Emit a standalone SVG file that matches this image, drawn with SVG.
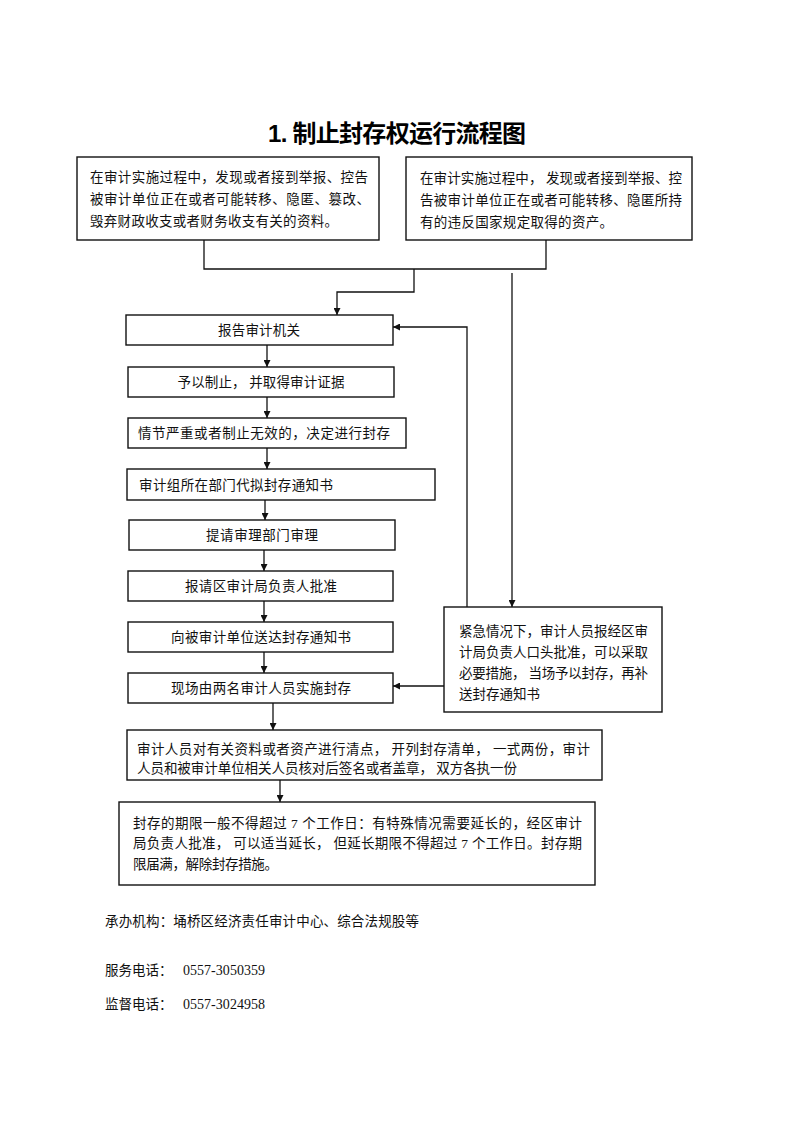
<svg xmlns="http://www.w3.org/2000/svg" width="794" height="1122" viewBox="0 0 794 1122">
<style>
.bx{fill:#fff;stroke:#111;stroke-width:1.4}
.t{font-family:"Liberation Serif","Noto Sans CJK SC",serif;font-size:13.5px;fill:#111}
.d{font-family:"Liberation Serif",serif;font-size:14px;fill:#111}
.c{text-anchor:middle}
.ln{fill:none;stroke:#111;stroke-width:1.3}
.ttl{font-family:"Liberation Sans","Noto Sans CJK SC",sans-serif;font-size:24px;font-weight:bold;fill:#000;text-anchor:middle}
</style>
<defs>
<marker id="ah" viewBox="0 0 10 10" refX="10" refY="5" markerWidth="7" markerHeight="7" markerUnits="userSpaceOnUse" orient="auto">
<path d="M0,0 L10,5 L0,10 z" fill="#111"/>
</marker>
</defs>
<rect width="794" height="1122" fill="#fff"/>
<text class="ttl" x="397" y="142" textLength="258">1. 制止封存权运行流程图</text>

<g id="connectors">
<path class="ln" d="M204,240 V269 H546 V240"/>
<path class="ln" d="M414,269 V292 H337 V315" marker-end="url(#ah)"/>
<path class="ln" d="M512,273 V607" marker-end="url(#ah)"/>
<path class="ln" d="M467,607 V327 H393" marker-end="url(#ah)"/>
<path class="ln" d="M444,686 H393" marker-end="url(#ah)"/>
<path class="ln" d="M267,345 V367" marker-end="url(#ah)"/>
<path class="ln" d="M267,397 V418" marker-end="url(#ah)"/>
<path class="ln" d="M267,448 V469" marker-end="url(#ah)"/>
<path class="ln" d="M265,500 V520" marker-end="url(#ah)"/>
<path class="ln" d="M264,550 V571" marker-end="url(#ah)"/>
<path class="ln" d="M264,601 V622" marker-end="url(#ah)"/>
<path class="ln" d="M264,652 V673" marker-end="url(#ah)"/>
<path class="ln" d="M273,703 V730" marker-end="url(#ah)"/>
<path class="ln" d="M280,780 V802" marker-end="url(#ah)"/>
</g>

<g id="nodeA">
<rect class="bx" x="77" y="157" width="302" height="83"/>
<text class="t" x="90" y="182" textLength="278">在审计实施过程中，发现或者接到举报、控告</text>
<text class="t" x="90" y="204" textLength="280">被审计单位正在或者可能转移、隐匿、篡改、</text>
<text class="t" x="90" y="226" textLength="248">毁弃财政收支或者财务收支有关的资料。</text>
</g>
<g id="nodeB">
<rect class="bx" x="406" y="157" width="286" height="83"/>
<text class="t" x="420" y="183" textLength="262">在审计实施过程中， 发现或者接到举报、控</text>
<text class="t" x="420" y="205" textLength="262">告被审计单位正在或者可能转移、隐匿所持</text>
<text class="t" x="420" y="227" textLength="193">有的违反国家规定取得的资产。</text>
</g>
<g id="node1">
<rect class="bx" x="126" y="315" width="267" height="30"/>
<text class="t c" x="259" y="335" textLength="82">报告审计机关</text>
</g>
<g id="node2">
<rect class="bx" x="128" y="367" width="266" height="30"/>
<text class="t c" x="261" y="387" textLength="167">予以制止， 并取得审计证据</text>
</g>
<g id="node3">
<rect class="bx" x="128" y="418" width="278" height="30"/>
<text class="t" x="138" y="438" textLength="252">情节严重或者制止无效的，决定进行封存</text>
</g>
<g id="node4">
<rect class="bx" x="127" y="469" width="308" height="31"/>
<text class="t" x="139" y="490" textLength="194">审计组所在部门代拟封存通知书</text>
</g>
<g id="node5">
<rect class="bx" x="129" y="520" width="266" height="30"/>
<text class="t c" x="262" y="540" textLength="112">提请审理部门审理</text>
</g>
<g id="node6">
<rect class="bx" x="128" y="571" width="265" height="30"/>
<text class="t c" x="261" y="591" textLength="152">报请区审计局负责人批准</text>
</g>
<g id="node7">
<rect class="bx" x="128" y="622" width="265" height="30"/>
<text class="t c" x="261" y="642" textLength="180">向被审计单位送达封存通知书</text>
</g>
<g id="node8">
<rect class="bx" x="128" y="673" width="265" height="30"/>
<text class="t c" x="261" y="693" textLength="180">现场由两名审计人员实施封存</text>
</g>
<g id="nodeE">
<rect class="bx" x="444" y="607" width="218" height="105"/>
<text class="t" x="459" y="636" textLength="189">紧急情况下，审计人员报经区审</text>
<text class="t" x="459" y="657" textLength="189">计局负责人口头批准，可以采取</text>
<text class="t" x="459" y="678" textLength="189">必要措施， 当场予以封存，再补</text>
<text class="t" x="459" y="699" textLength="81">送封存通知书</text>
</g>
<g id="node9">
<rect class="bx" x="127" y="730" width="475" height="50"/>
<text class="t" x="137" y="754" textLength="453">审计人员对有关资料或者资产进行清点， 开列封存清单， 一式两份，审计</text>
<text class="t" x="137" y="773" textLength="380">人员和被审计单位相关人员核对后签名或者盖章， 双方各执一份</text>
</g>
<g id="node10">
<rect class="bx" x="119" y="802" width="476" height="83"/>
<text class="t" x="133" y="828" textLength="449">封存的期限一般不得超过 7 个工作日：有特殊情况需要延长的，经区审计</text>
<text class="t" x="133" y="848" textLength="449">局负责人批准， 可以适当延长， 但延长期限不得超过 7 个工作日。封存期</text>
<text class="t" x="133" y="869" textLength="145">限届满，解除封存措施。</text>
</g>

<text class="t" x="105" y="926" textLength="314">承办机构：埇桥区经济责任审计中心、综合法规股等</text>
<text class="t" x="105" y="975">服务电话：<tspan class="d" x="183" textLength="82">0557-3050359</tspan></text>
<text class="t" x="105" y="1009">监督电话：<tspan class="d" x="183" textLength="82">0557-3024958</tspan></text>
</svg>
